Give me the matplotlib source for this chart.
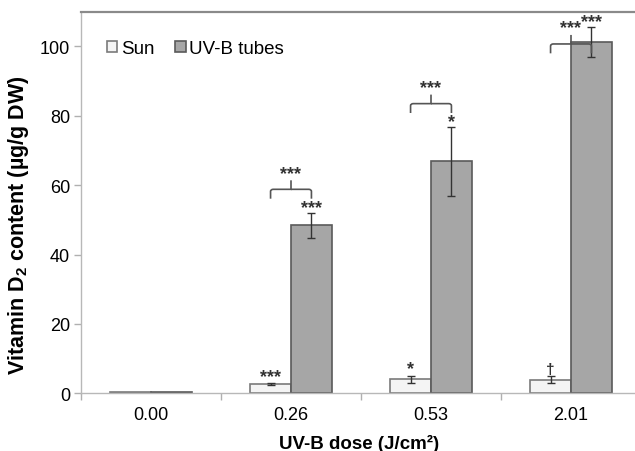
import matplotlib
matplotlib.use("Agg")
import matplotlib.pyplot as plt
import numpy as np
from matplotlib.path import Path
from matplotlib.patches import PathPatch

plt.rcParams['font.family'] = ['Liberation Sans', 'DejaVu Sans']
plt.rcParams['mathtext.fontset'] = 'custom'
plt.rcParams['mathtext.rm'] = 'Liberation Sans'
plt.rcParams['mathtext.bf'] = 'Liberation Sans:bold'

# ---- data ----
doses = ["0.00", "0.26", "0.53", "2.01"]
sun = [0.3, 2.6, 4.1, 3.9]
sun_err = [0.0, 0.3, 1.0, 1.0]
uvb = [0.3, 48.4, 66.9, 101.3]
uvb_err = [0.0, 3.6, 9.9, 4.3]
sun_sig = ["", "***", "*", "†"]
uvb_sig = ["", "***", "*", "***"]
pair_sig = ["", "***", "***", "***"]
pair_level = [None, 58.8, 83.5, 100.7]

W, H = 635, 452
fig = plt.figure(figsize=(W / 100, H / 100), dpi=100)
ax = fig.add_axes([81 / W, (H - 394.3) / H, 560 / W, (394.3 - 12.7) / H])
AH = 394.3 - 12.7

x = np.arange(len(doses))
bw = 0.292
off = bw / 2
sun_fill, sun_edge = "#f4f4f4", "#7a7a7a"
uv_fill, uv_edge = "#a6a6a6", "#5a5a5a"

ax.bar(x - off, sun, bw, color=sun_fill, edgecolor=sun_edge, linewidth=1.2,
       label="Sun", zorder=2)
ax.bar(x + off, uvb, bw, color=uv_fill, edgecolor=uv_edge, linewidth=1.2,
       label="UV-B tubes", zorder=2)

for i in range(len(doses)):
    if sun_err[i] > 0:
        ax.errorbar(x[i] - off, sun[i], yerr=sun_err[i], fmt='none',
                    ecolor="#333333", elinewidth=1.0, capsize=3, capthick=1.0, zorder=3)
    if uvb_err[i] > 0:
        ax.errorbar(x[i] + off, uvb[i], yerr=uvb_err[i], fmt='none',
                    ecolor="#333333", elinewidth=1.0, capsize=3, capthick=1.0, zorder=3)

starkw = dict(ha='center', va='center', fontsize=13, fontweight='bold', color="#333333", zorder=4)
for i in range(len(doses)):
    if sun_sig[i]:
        ax.text(x[i] - off, sun[i] + sun_err[i] + 2.0, sun_sig[i],
                **dict(starkw, fontsize=11 if sun_sig[i] == "†" else 13))
    if uvb_sig[i]:
        ax.text(x[i] + off, uvb[i] + uvb_err[i] + 1.5, uvb_sig[i], **starkw)

# brackets
for i in range(len(doses)):
    lv = pair_level[i]
    if lv is None:
        continue
    xl, xr = x[i] - off, x[i] + off
    xc = x[i]
    d = 2.7
    r = 0.02
    verts = [(xl, lv - d), (xl, lv - 0.6), (xl, lv), (xl + r, lv),
             (xc - 0.01, lv), (xc, lv), (xc, lv + 0.0), (xc, lv + 2.6)]
    codes = [Path.MOVETO, Path.LINETO, Path.CURVE3, Path.CURVE3,
             Path.LINETO, Path.CURVE3, Path.CURVE3, Path.LINETO]
    ax.add_patch(PathPatch(Path(verts, codes), fill=False, edgecolor="#555555", lw=1.2, zorder=4))
    verts2 = [(xc, lv), (xr - r, lv), (xr, lv), (xr, lv - 0.6), (xr, lv - d)]
    codes2 = [Path.MOVETO, Path.LINETO, Path.CURVE3, Path.CURVE3, Path.LINETO]
    ax.add_patch(PathPatch(Path(verts2, codes2), fill=False, edgecolor="#555555", lw=1.2, zorder=4))
    ax.text(xc, lv + 4.6, pair_sig[i], **starkw)

ax.set_xlim(-0.5, len(doses) - 0.5)
ax.set_ylim(0, 110)
ax.set_yticks([0, 20, 40, 60, 80, 100])
ax.set_xticks(x)
ax.set_xticklabels(doses)
ax.set_xticks(np.arange(-0.5, len(doses)), minor=True)
ax.tick_params(axis='x', which='major', length=0, pad=9, labelsize=13)
ax.tick_params(axis='x', which='minor', length=5, width=1, color="#b0b0b0")
ax.tick_params(axis='y', length=5, width=1, color="#b0b0b0", pad=3, labelsize=13)

for s in ['left', 'bottom']:
    ax.spines[s].set_color("#b8b8b8")
    ax.spines[s].set_linewidth(1.0)
ax.spines['top'].set_color("#8a8a8a")
ax.spines['top'].set_linewidth(1.6)
ax.spines['right'].set_visible(False)

ax.set_xlabel("UV-B dose (J/cm²)", fontsize=13.5, fontweight='bold')
ax.xaxis.label.set_va('center')
ax.xaxis.set_label_coords((359.5 - 81) / 560, -(444 - 394.3) / AH)
ax.set_ylabel(r"Vitamin D$_{\mathbf{2}}$ content (µg/g DW)", fontsize=15.5, fontweight='bold')
ax.yaxis.label.set_va('center')
ax.yaxis.set_label_coords((18 - 81) / 560, (394.3 - 225) / AH)

leg = ax.legend(loc='center left', bbox_to_anchor=(26 / 560, (394.3 - 49.5) / AH),
                ncol=2, frameon=False, fontsize=13.5, handlelength=0.55, handleheight=0.55,
                handletextpad=0.2, columnspacing=1.1, borderpad=0, borderaxespad=0)

fig.savefig("out.png", dpi=100)
